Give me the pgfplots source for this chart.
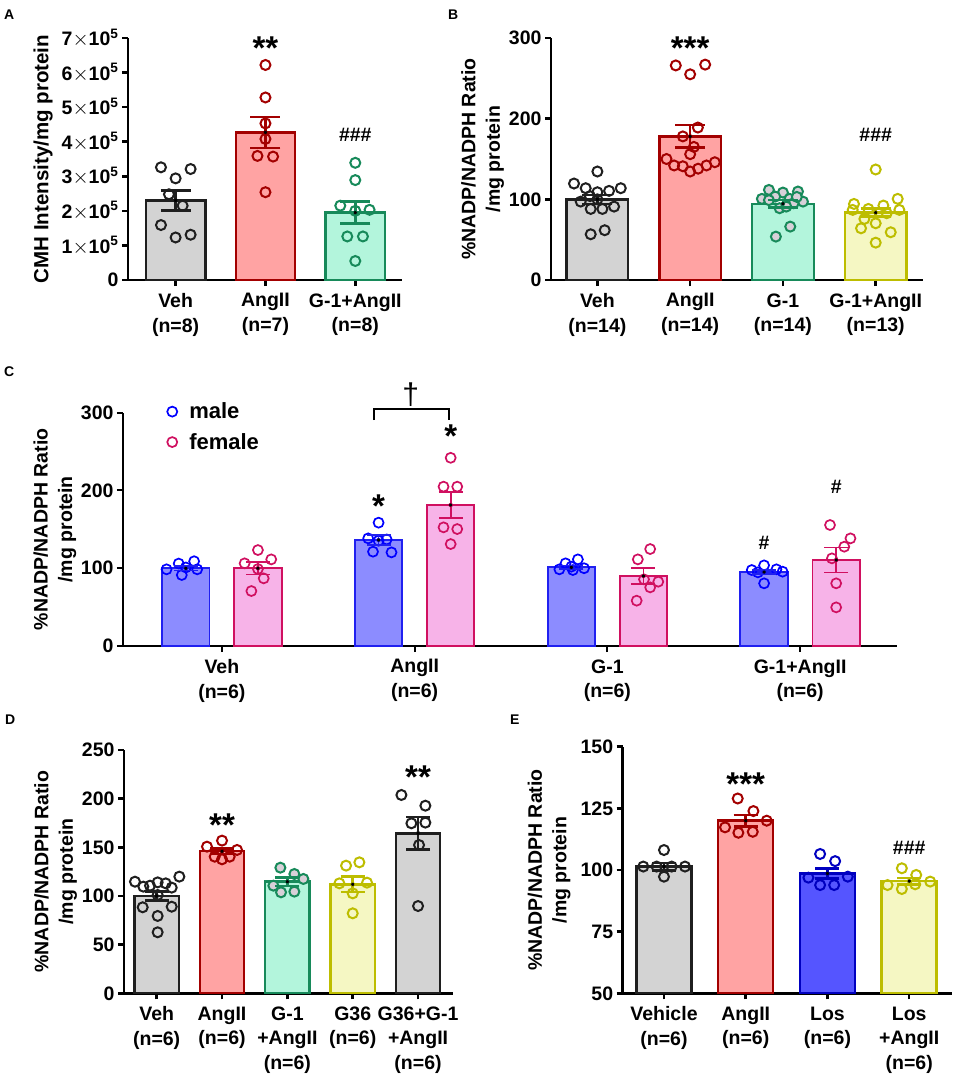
\documentclass[border=0pt]{standalone}
\usepackage{pgfplots}
\pgfplotsset{compat=1.18}
\usepackage{fontspec}
\setmainfont{Liberation Sans}
\definecolor{grayF}{HTML}{D3D3D3}
\definecolor{grayE}{HTML}{1F1F1F}
\definecolor{redF}{HTML}{FFA3A3}
\definecolor{redE}{HTML}{A30000}
\definecolor{grnF}{HTML}{B3F5DC}
\definecolor{grnE}{HTML}{178A5A}
\definecolor{yelF}{HTML}{F5F7C3}
\definecolor{yelE}{HTML}{BDBD00}
\definecolor{mblF}{HTML}{8C8CFF}
\definecolor{mblE}{HTML}{2020F0}
\definecolor{mblM}{HTML}{0000FF}
\definecolor{fpkF}{HTML}{F7B3E8}
\definecolor{fpkE}{HTML}{D01060}
\definecolor{losF}{HTML}{5555FF}
\definecolor{losE}{HTML}{0000C0}
\definecolor{ptfill}{HTML}{D8D0D8}
\newcommand\fs{\fontsize{19.5}{24.5}\selectfont\bfseries}
\newcommand\astf{\fontsize{33}{33}\selectfont\bfseries}
\newcommand\plab{\fontsize{14}{16}\selectfont\bfseries}
\pgfplotsset{
 panel/.style={
   scale only axis, axis lines=left,
   axis line style={-, line width=2.5pt, black},
   tick style={line width=2.5pt, black},
   tick align=outside, major tick length=6pt,
   tick label style={font=\fs},
   xticklabel style={align=center, yshift=-4pt},
   ylabel style={font=\fs, align=center},
   clip mode=individual,
   /pgf/number format/assume math mode=true,
   scaled y ticks=false,
   minor tick num=0,
 },
 bars/.style 2 args={ybar, bar shift=0pt, fill=#1, draw=#2, line width=2.5pt, forget plot},
 pts/.style={only marks, mark=o, mark size=5pt, draw=#1, mark options={line width=2pt, solid}, forget plot},
 fpts/.style 2 args={only marks, mark=*, mark size=5pt, draw=#1, mark options={line width=2pt, solid, fill=#2, draw=#1}, forget plot},
 eb/.style 2 args={forget plot, only marks, mark=none, draw=#1, error bars/.cd, y dir=both, y explicit,
   error mark=|, error bar style={line width=2.5pt, #1}, error mark options={line width=2.5pt, #1, mark size=#2}},
 ebt/.style 2 args={forget plot, only marks, mark=none, draw=#1, error bars/.cd, y dir=both, y explicit,
   error mark=|, error bar style={line width=1.8pt, #1}, error mark options={line width=1.8pt, #1, mark size=#2}},
}
\begin{document}
\begin{tikzpicture}[x=1pt,y=1pt]
\useasboundingbox (0,0) rectangle (955,-1076);
\node[anchor=north west, font=\plab, inner sep=0pt] at (4,-10) {A};
\node[anchor=north west, font=\plab, inner sep=0pt] at (448,-10) {B};
\node[anchor=north west, font=\plab, inner sep=0pt] at (4,-367) {C};
\node[anchor=north west, font=\plab, inner sep=0pt] at (5,-715) {D};
\node[anchor=north west, font=\plab, inner sep=0pt] at (510,-715) {E};

% ---------------- A
\begin{axis}[panel, at={(128pt,-280pt)}, anchor=south west, width=274pt, height=242pt,
  xmin=-0.53, xmax=2.52, ymin=0, ymax=7e5,
  xtick={0,1,2}, xticklabels={{Veh\\(n=8)},{AngII\\(n=7)},{G-1+AngII\\(n=8)}},
  ytick={0,1e5,2e5,3e5,4e5,5e5,6e5,7e5},
  yticklabels={0,{1$\times$10\textsuperscript{5}},{2$\times$10\textsuperscript{5}},{3$\times$10\textsuperscript{5}},{4$\times$10\textsuperscript{5}},{5$\times$10\textsuperscript{5}},{6$\times$10\textsuperscript{5}},{7$\times$10\textsuperscript{5}}},
  ylabel={CMH Intensity/mg protein},
  ylabel style={at={(axis description cs:-0.31,0.5)}, anchor=center, font=\fontsize{20.5}{25}\selectfont\bfseries}]
\addplot[bars={grayF}{grayE}, bar width=0.66] coordinates {(0,2.3e5)};
\addplot[bars={redF}{redE}, bar width=0.66] coordinates {(1,4.27e5)};
\addplot[bars={grnF}{grnE}, bar width=0.66] coordinates {(2,1.95e5)};
\addplot[pts=grayE] coordinates {(-0.163,3.26e5) (0,2.94e5) (0.167,3.21e5) (-0.074,2.48e5) (0.078,2.15e5) (-0.163,1.59e5) (0,1.23e5) (0.167,1.31e5)};
\addplot[pts=redE] coordinates {(1,6.22e5) (1,5.28e5) (1,4.53e5) (1,4.08e5) (0.911,3.59e5) (1.085,3.57e5) (1,2.54e5)};
\addplot[pts=grnE] coordinates {(2,3.39e5) (2,2.89e5) (1.833,2.15e5) (2,2.0e5) (2.159,2.03e5) (1.911,1.26e5) (2.085,1.26e5) (2,0.55e5)};
\addplot[eb={grayE}{15pt}] coordinates {(0,2.3e5) +- (0,0.29e5)};
\addplot[eb={redE}{15pt}] coordinates {(1,4.27e5) +- (0,0.45e5)};
\addplot[eb={grnE}{15pt}] coordinates {(2,1.95e5) +- (0,0.32e5)};
\node[font=\astf] at (axis cs:1,6.72e5) {**};
\node[font=\fs] at (axis cs:2,4.2e5) {\#\#\#};
\end{axis}

% ---------------- B
\begin{axis}[panel, at={(551pt,-280pt)}, anchor=south west, width=372pt, height=242pt,
  xmin=-0.5, xmax=3.51, ymin=0, ymax=300,
  xtick={0,1,2,3}, xticklabels={{Veh\\(n=14)},{AngII\\(n=14)},{G-1\\(n=14)},{G-1+AngII\\(n=13)}},
  ytick={0,100,200,300},
  ylabel={\%NADP/NADPH Ratio\\/mg protein},
  ylabel style={at={(axis description cs:-0.184,0.5)}, anchor=center}]
\addplot[bars={grayF}{grayE}, bar width=0.665] coordinates {(0,100)};
\addplot[bars={redF}{redE}, bar width=0.665] coordinates {(1,178)};
\addplot[bars={grnF}{grnE}, bar width=0.665] coordinates {(2,94.5)};
\addplot[bars={yelF}{yelE}, bar width=0.665] coordinates {(3,83.5)};
\addplot[pts=grayE] coordinates {(0,134.5) (-0.252,119.6) (-0.126,113.8) (0,108.8) (0.126,110.5) (0.252,113.8) (-0.18,97.2) (-0.072,88.1) (0.054,88.1) (0.18,91) (-0.072,56.7) (0.079,61.7) (0,100) (-0.08,104)};
\addplot[pts=redE] coordinates {(0.845,266) (1,255) (1.162,267) (1.083,189) (0.921,178) (1,156) (0.745,150) (0.827,142) (0.921,141) (1,134.5) (1.086,138) (1.176,142) (1.266,146) (1.04,165)};
\addplot[fpts={grnE}{ptfill}] coordinates {(1.849,111.7) (2,108.4) (2.162,109.7) (1.773,100.6) (1.917,103.4) (2.072,100.6) (2.216,97.2) (1.964,89) (2.115,95.2) (2.036,91) (2.079,66.2) (1.924,53.8) (1.849,99) (2.15,103)};
\addplot[pts=yelE] coordinates {(3,137) (3.237,100.6) (2.766,94.3) (3.083,92.3) (2.752,86.9) (2.921,88.1) (3.255,86.9) (2.878,75.7) (3,70.3) (2.842,64.1) (3.162,59.2) (3,46.3) (3.119,82.8)};
\addplot[eb={grayE}{15pt}] coordinates {(0,100) +- (0,5.5)};
\addplot[eb={redE}{15pt}] coordinates {(1,178) +- (0,14)};
\addplot[eb={grnE}{15pt}] coordinates {(2,94.5) +- (0,4.5)};
\addplot[eb={yelE}{15pt}] coordinates {(3,83.5) +- (0,5)};
\node[font=\astf] at (axis cs:1,288) {***};
\node[font=\fs] at (axis cs:3,180) {\#\#\#};
\end{axis}

% ---------------- C
\begin{axis}[panel, at={(123pt,-646pt)}, anchor=south west, width=773.5pt, height=233.3pt,
  axis line style={-, line width=2pt, black}, tick style={line width=2pt, black},
  xmin=-0.513, xmax=3.5, ymin=0, ymax=300,
  xtick={0,1,2,3}, xticklabels={{Veh\\(n=6)},{AngII\\(n=6)},{G-1\\(n=6)},{G-1+AngII\\(n=6)}},
  ytick={0,100,200,300},
  ylabel={\%NADP/NADPH Ratio\\/mg protein},
  ylabel style={at={(axis description cs:-0.088,0.5)}, anchor=center},
  legend style={draw=none, fill=none, at={(axis cs:-0.30,318)}, anchor=north west,
    font=\fontsize{22}{27}\selectfont\bfseries, row sep=9pt},
  legend cell align=left]
\addplot[bars={mblF}{mblE}, bar width=0.246, line width=1.8pt] coordinates {(-0.187,100) (0.813,136.3) (1.813,101.1) (2.813,95.1)};
\addplot[bars={fpkF}{fpkE}, bar width=0.246, line width=1.8pt] coordinates {(0.187,100) (1.187,181.3) (2.187,90) (3.187,110.6)};
\addplot[only marks, mark=o, mark size=5pt, draw=mblM, mark options={line width=1.7pt, solid}] coordinates {(-0.224,106) (-0.144,109) (-0.287,98.6) (-0.208,91.3) (-0.128,98.6) (-0.187,101)
 (0.813,158.6) (0.759,138.4) (0.855,137) (0.784,121.3) (0.88,120.4) (0.813,135.4)
 (1.847,111.4) (1.783,106.3) (1.751,98.6) (1.821,97.7) (1.879,100) (1.813,102)
 (2.813,103.7) (2.749,97.7) (2.877,98.6) (2.909,95.6) (2.781,94.7) (2.813,80.6)};
\addlegendentry{\hspace{10pt}male}
\addplot[only marks, mark=o, mark size=5pt, draw=fpkE, mark options={line width=1.7pt, solid}] coordinates {(0.187,123.4) (0.256,111.4) (0.118,106.3) (0.187,99) (0.217,87) (0.153,70.7)
 (1.187,242) (1.15,204.9) (1.221,204.9) (1.15,152.6) (1.221,150.4) (1.187,131.1)
 (2.222,124.7) (2.158,111.4) (2.19,85.7) (2.264,82.7) (2.222,75.4) (2.152,58.3)
 (3.155,155.6) (3.261,138.4) (3.229,127.7) (3.165,112.7) (3.187,80.6) (3.187,49.7)};
\addlegendentry{\hspace{10pt}female}
\addplot[ebt={mblE}{12pt}] coordinates {(-0.187,100) +- (0,3) (0.813,136.3) +- (0,6) (1.813,101.1) +- (0,2.5) (2.813,95.1) +- (0,3)};
\addplot[ebt={fpkE}{12pt}] coordinates {(0.187,100) +- (0,8) (1.187,181.3) +- (0,17) (2.187,90) +- (0,10) (3.187,110.6) +- (0,16)};
\node[font=\astf] at (axis cs:0.813,180) {*};
\node[font=\astf] at (axis cs:1.187,270) {*};
\node[font=\fs] at (axis cs:2.813,132) {\#};
\node[font=\fs] at (axis cs:3.187,205) {\#};
\draw[line width=2pt] (axis cs:0.79,290.6) -- (axis cs:0.79,304.7) -- (axis cs:1.18,304.7) -- (axis cs:1.18,290.6);
\node[font=\fontsize{30}{30}\selectfont] at (axis cs:0.98,323) {†};
\end{axis}

% ---------------- D
\begin{axis}[panel, at={(124pt,-993.3pt)}, anchor=south west, width=328.7pt, height=243.3pt,
  xmin=-0.5, xmax=4.53, ymin=0, ymax=250,
  xtick={0,1,2,3,4}, xticklabels={{Veh\\(n=6)},{AngII\\(n=6)},{G-1\\+AngII\\(n=6)},{G36\\(n=6)},{G36+G-1\\+AngII\\(n=6)}},
  ytick={0,50,100,150,200,250},
  ylabel={\%NADP/NADPH Ratio\\/mg protein},
  ylabel style={at={(axis description cs:-0.208,0.5)}, anchor=center}]
\addplot[bars={grayF}{grayE}, bar width=0.678] coordinates {(0,100)};
\addplot[bars={redF}{redE}, bar width=0.678] coordinates {(1,146)};
\addplot[bars={grnF}{grnE}, bar width=0.678] coordinates {(2,114.7)};
\addplot[bars={yelF}{yelE}, bar width=0.678] coordinates {(3,112)};
\addplot[bars={grayF}{grayE}, bar width=0.678] coordinates {(4,164.4)};
\addplot[pts=grayE] coordinates {(-0.332,114.7) (-0.204,109.6) (0.015,114) (-0.102,110.6) (0.138,113) (0.347,119.9) (0.23,108.6) (0.015,101) (-0.214,88.4) (0.015,79.5) (0.23,89) (0.015,62.7)};
\addplot[pts=redE] coordinates {(0.77,150.7) (1,156.9) (1.23,147.3) (0.888,140.4) (1.117,140.4) (1,137.7)};
\addplot[fpts={grnE}{ptfill}] coordinates {(1.893,129.1) (2.107,122.6) (2.245,117.5) (1.786,110.6) (1.903,103.8) (2.107,104.5)};
\addplot[pts=yelE] coordinates {(2.898,131.2) (3.102,134.6) (2.796,113) (3.219,113.7) (3,102.7) (3,82.2)};
\addplot[pts=grayE] coordinates {(3.745,203.8) (4.112,192.8) (3.898,174.7) (4.112,175.4) (4.015,152.4) (4,89.7)};
\addplot[eb={grayE}{12pt}] coordinates {(0,100) +- (0,4.5)};
\addplot[eb={redE}{12pt}] coordinates {(1,146) +- (0,3)};
\addplot[eb={grnE}{12pt}] coordinates {(2,114.7) +- (0,4.5)};
\addplot[eb={yelE}{12pt}] coordinates {(3,112) +- (0,8)};
\addplot[eb={grayE}{12pt}] coordinates {(4,164.4) +- (0,16.7)};
\node[font=\astf] at (axis cs:1,173) {**};
\node[font=\astf] at (axis cs:4,222) {**};
\end{axis}

% ---------------- E
\begin{axis}[panel, at={(622.7pt,-993.3pt)}, anchor=south west, width=329pt, height=246.6pt,
  xmin=-0.505, xmax=3.52, ymin=50, ymax=150,
  xtick={0,1,2,3}, xticklabels={{Vehicle\\(n=6)},{AngII\\(n=6)},{Los\\(n=6)},{Los\\+AngII\\(n=6)}},
  ytick={50,75,100,125,150},
  ylabel={\%NADP/NADPH Ratio\\/mg protein},
  ylabel style={at={(axis description cs:-0.224,0.5)}, anchor=center}]
\addplot[bars={grayF}{grayE}, bar width=0.673] coordinates {(0,101.4)};
\addplot[bars={redF}{redE}, bar width=0.673] coordinates {(1,120)};
\addplot[bars={losF}{losE}, bar width=0.673] coordinates {(2,98.6)};
\addplot[bars={yelF}{yelE}, bar width=0.673] coordinates {(3,95.5)};
\addplot[pts=grayE] coordinates {(0,108.1) (-0.253,101.4) (-0.09,101.4) (0.094,101.4) (0.257,101.4) (0,97.3)};
\addplot[pts=redE] coordinates {(0.902,129) (1.094,123.9) (1.257,120) (0.747,117.3) (0.91,115.1) (1.086,115.5)};
\addplot[pts=losE] coordinates {(1.91,106.5) (2.094,103.6) (1.767,96.9) (2.249,97.3) (1.91,93.9) (2.082,93.9)};
\addplot[pts=yelE] coordinates {(2.91,100.7) (3.086,98) (2.735,93.9) (2.91,92.3) (3.073,94.2) (3.257,95.3)};
\addplot[eb={grayE}{12pt}] coordinates {(0,101.4) +- (0,1.5)};
\addplot[eb={redE}{12pt}] coordinates {(1,120) +- (0,2.3)};
\addplot[eb={losE}{12pt}] coordinates {(2,98.6) +- (0,2)};
\addplot[eb={yelE}{12pt}] coordinates {(3,95.5) +- (0,1.3)};
\node[font=\astf] at (axis cs:1,134.8) {***};
\node[font=\fs] at (axis cs:3,108.8) {\#\#\#};
\end{axis}
\end{tikzpicture}
\end{document}
